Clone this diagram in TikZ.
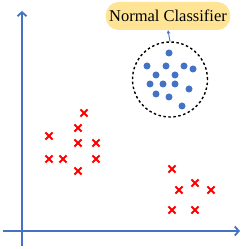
\documentclass[tikz,border=0pt]{standalone}
\usepackage{fontspec}
\setmainfont{Liberation Serif}
\usepackage{xcolor}
\usepackage{tikz}
\usetikzlibrary{arrows.meta, positioning, shapes.misc}
\definecolor{axisblue}{RGB}{68, 114, 196}
\definecolor{labelyellow}{RGB}{255, 228, 150}
\definecolor{anomred}{RGB}{255, 0, 0}

\begin{document}
\begin{tikzpicture}[x=1pt, y=1pt, >=Stealth,
   pt/.style={circle, fill=axisblue, minimum size=7pt, inner sep=0pt},
   xm/.style={cross out, draw=anomred, line width=2.1pt, minimum size=5pt, inner sep=0pt},
   lbl/.style={rounded corners=13pt, fill=labelyellow, minimum width=120pt, minimum height=28pt,
      font=\rmfamily\fontsize{16.5}{19}\selectfont}]
  \useasboundingbox (0,0) rectangle (242,249);
  % axes
  \coordinate (ybot) at (22,3); \coordinate (ytop) at (22,238);
  \coordinate (xlft) at (3,18); \coordinate (xrgt) at (240,18);
  \draw[axisblue, line width=1.8pt, -{Straight Barb[length=4pt, width=9pt]}] (ybot) -- (ytop);
  \draw[axisblue, line width=1.8pt, -{Straight Barb[length=4pt, width=9pt]}] (xlft) -- (xrgt);
  % normal cluster
  \node[draw, circle, dash pattern=on 2.5pt off 2.5pt, line width=1.4pt, minimum size=75pt] (normal) at (170,169.5) {};
  \foreach \x/\y in {169/196, 147/183, 166/183, 184/183, 193/180, 156/174, 175/174,
      150/165, 163/165, 175/165, 189/160, 156/155, 169/152, 182/143}
    \node[pt] at (\x,\y) {};
  \node[lbl] (classifier) at (168,233) {Normal Classifier};
  \draw[->, axisblue, line width=0.9pt, >={Stealth[length=3.5pt, width=3.5pt]}] (normal.north) -- (classifier.south);
  % anomalies
  \foreach \x/\y in {84/136, 78/121, 49/113, 78/106, 96/106, 49/90, 63/90, 96/90, 78/78,
      172/80, 179/59, 195/66, 211/59, 172/39, 195/39}
    \node[xm] at (\x,\y) {};
\end{tikzpicture}
\end{document}
